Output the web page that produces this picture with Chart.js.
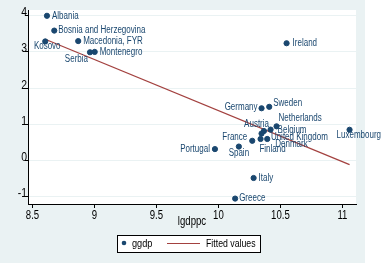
<!DOCTYPE html>
<html>
<head>
<meta charset="utf-8">
<script src="https://cdn.jsdelivr.net/npm/chart.js@4/dist/chart.umd.min.js"></script>
<style>
    html, body { margin: 0; padding: 0; background: #fff; }
    canvas { display: block; }
</style>
</head>
<body>
<canvas id="ggdp-scatter" width="384" height="263"></canvas>
<script>
// values
const countries = ['Albania', 'Bosnia and Herzegovina', 'Kosovo', 'Macedonia, FYR', 'Serbia', 'Montenegro',
    'Ireland', 'Germany', 'Sweden', 'Netherlands', 'Luxembourg', 'Belgium', 'United Kingdom', 'Austria',
    'Denmark', 'Finland', 'France', 'Spain', 'Portugal', 'Italy', 'Greece'];
const lgdppc = [8.617, 8.676, 8.603, 8.869, 8.964, 9.002,
    10.55, 10.348, 10.41, 10.469, 11.058, 10.421, 10.367, 10.348,
    10.394, 10.340, 10.273, 10.165, 9.972, 10.284, 10.135];
const ggdp = [4.00, 3.59, 3.29, 3.30, 2.99, 3.00,
    3.24, 1.44, 1.48, 0.94, 0.845, 0.85, 0.81, 0.74,
    0.59, 0.59, 0.54, 0.38, 0.31, -0.49, -1.06];

const fitX = [8.603, 11.058];
const fitY = [3.35, -0.12];

const xTicks = [8.5, 9, 9.5, 10, 10.5, 11];
const xTickLabels = ['8.5', '9', '9.5', '10', '10.5', '11'];
const yTicks = [-1, 0, 1, 2, 3, 4];
const yTickLabels = ['-1', '0', '1', '2', '3', '4'];

const seriesNames = ['ggdp', 'Fitted values'];
const xTitle = 'lgdppc';

// marker label placement: [dx, dy, align]
const labelPlace = {
    'Albania': [5, 0, 'left'],
    'Bosnia and Herzegovina': [4, 0, 'left'],
    'Kosovo': [2, 5, 'center'],
    'Macedonia, FYR': [5, 0, 'left'],
    'Serbia': [-2, 7, 'right'],
    'Montenegro': [5, 0, 'left'],
    'Ireland': [6, 0, 'left'],
    'Germany': [-4, -1, 'right'],
    'Sweden': [4, -4, 'left'],
    'Netherlands': [2, -8, 'left'],
    'Luxembourg': [-13, 5, 'left'],
    'Belgium': [7, 1, 'left'],
    'United Kingdom': [7, 6, 'left'],
    'Austria': [-5, -9, 'center'],
    'Denmark': [8, 5, 'left'],
    'Finland': [12, 10, 'center'],
    'France': [-5, -4, 'right'],
    'Spain': [0, 7, 'center'],
    'Portugal': [-5, 0, 'right'],
    'Italy': [5, 0, 'left'],
    'Greece': [4, 0, 'left']
};

const navy = '#1a476f';
const maroon = '#a3413f';
const bgColor = '#eaf2f3';
const fontFamily = "'Liberation Sans', Arial, sans-serif";
const narrow = 0.8; // Stata's text is condensed

function narrowText(ctx, text, x, y) {
    ctx.save();
    ctx.translate(x, y);
    ctx.scale(narrow, 1);
    ctx.fillText(text, 0, 0);
    ctx.restore();
}

const backgroundPlugin = {
    id: 'stataBackground',
    beforeDraw(chart) {
        const {ctx, chartArea} = chart;
        ctx.save();
        ctx.fillStyle = '#ffffff';
        ctx.fillRect(0, 0, chart.width, chart.height);
        ctx.fillStyle = bgColor;
        ctx.fillRect(0, 0, 365, chart.height);
        ctx.fillStyle = '#ffffff';
        ctx.fillRect(chartArea.left, chartArea.top, chartArea.right - chartArea.left, chartArea.bottom - chartArea.top);
        ctx.restore();
    }
};

const labelsPlugin = {
    id: 'markerLabels',
    afterDatasetsDraw(chart) {
        const {ctx} = chart;
        const meta = chart.getDatasetMeta(0);
        ctx.save();
        ctx.font = '10px ' + fontFamily;
        ctx.fillStyle = navy;
        ctx.textBaseline = 'middle';
        meta.data.forEach((pt, i) => {
            const name = countries[i];
            const p = labelPlace[name] || [5, 0, 'left'];
            ctx.textAlign = p[2];
            narrowText(ctx, name, pt.x + p[0], pt.y + p[1]);
        });
        ctx.restore();
    },
    afterDraw(chart) {
        const {ctx, chartArea} = chart;
        const xs = chart.scales.x, ys = chart.scales.y;
        ctx.save();
        ctx.fillStyle = '#000';
        ctx.textBaseline = 'middle';

        // tick labels
        ctx.font = '12px ' + fontFamily;
        ctx.textAlign = 'center';
        xTicks.forEach((v, i) => narrowText(ctx, xTickLabels[i], xs.getPixelForValue(v), 216));
        ctx.font = '13px ' + fontFamily;
        ctx.textAlign = 'right';
        yTicks.forEach((v, i) => narrowText(ctx, yTickLabels[i], 27, ys.getPixelForValue(v) - 3));

        // x axis title
        ctx.font = '12px ' + fontFamily;
        ctx.textAlign = 'center';
        narrowText(ctx, xTitle, (chartArea.left + chartArea.right) / 2, 222);

        // legend box
        const bx = 117, by = 235, bw = 143, bh = 17;
        ctx.fillStyle = '#fff';
        ctx.fillRect(bx, by, bw, bh);
        ctx.strokeStyle = '#000';
        ctx.lineWidth = 1;
        ctx.strokeRect(bx + 0.5, by + 0.5, bw, bh);
        const cy = by + bh / 2 + 0.5;
        ctx.fillStyle = navy;
        ctx.beginPath();
        ctx.arc(124, cy - 1, 2.3, 0, Math.PI * 2);
        ctx.fill();
        ctx.font = '11.5px ' + fontFamily;
        ctx.fillStyle = '#000';
        ctx.textAlign = 'left';
        narrowText(ctx, seriesNames[0], 132, cy);
        ctx.strokeStyle = maroon;
        ctx.beginPath();
        ctx.moveTo(167, cy - 0.5);
        ctx.lineTo(200, cy - 0.5);
        ctx.stroke();
        ctx.save();
        ctx.translate(206, cy);
        ctx.scale(0.76, 1);
        ctx.fillText(seriesNames[1], 0, 0);
        ctx.restore();
        ctx.restore();
    }
};

const config = {
    type: 'scatter',
    data: {
        datasets: [
            {
                label: seriesNames[0],
                data: lgdppc.map((x, i) => ({x: x, y: ggdp[i]})),
                backgroundColor: navy,
                borderColor: navy,
                pointRadius: 2.6,
                pointHoverRadius: 3
            },
            {
                label: seriesNames[1],
                data: fitX.map((x, i) => ({x: x, y: fitY[i]})),
                showLine: true,
                borderColor: maroon,
                borderWidth: 1.2,
                pointRadius: 0,
                fill: false
            }
        ]
    },
    options: {
        responsive: false,
        animation: false,
        layout: {
            padding: {top: 10, right: 28, left: 0, bottom: 0}
        },
        plugins: {
            legend: {display: false},
            tooltip: {
                callbacks: {
                    label: function (context) {
                        if (context.datasetIndex === 0) {
                            return countries[context.dataIndex] + ': ' + context.parsed.y;
                        }
                        return ' ' + context.parsed.y;
                    }
                }
            }
        },
        scales: {
            x: {
                type: 'linear',
                min: 8.464,
                max: 11.11,
                afterBuildTicks: scale => {
                    scale.ticks = xTicks.map(v => ({value: v}));
                },
                afterFit: scale => {
                    scale.height = 59;
                },
                grid: {
                    drawOnChartArea: false,
                    drawTicks: true,
                    tickLength: 4,
                    tickColor: '#000'
                },
                border: {display: true, color: '#000', width: 1},
                ticks: {display: false}
            },
            y: {
                type: 'linear',
                min: -1.21,
                max: 4.16,
                afterBuildTicks: scale => {
                    scale.ticks = yTicks.map(v => ({value: v}));
                },
                afterFit: scale => {
                    scale.width = 28;
                },
                grid: {
                    color: bgColor,
                    drawTicks: true,
                    tickLength: 3,
                    tickColor: '#000'
                },
                border: {display: true, color: '#000', width: 1},
                ticks: {display: false}
            }
        }
    },
    plugins: [backgroundPlugin, labelsPlugin]
};

const ctx = document.getElementById('ggdp-scatter').getContext('2d');
window.ggdpChart = new Chart(ctx, config);
</script>
</body>
</html>
